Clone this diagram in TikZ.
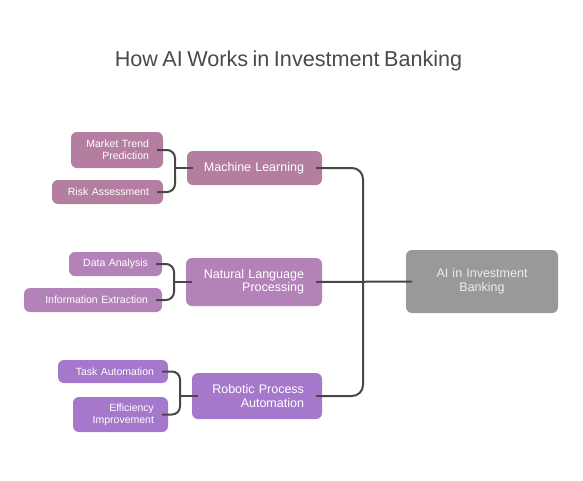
\documentclass[tikz,border=0pt]{standalone}
\usepackage{fontspec}
\setmainfont{Liberation Sans}[WordSpace=0.75]
\definecolor{mlc}{HTML}{B47EA0}
\definecolor{nlc}{HTML}{B382B8}
\definecolor{rpc}{HTML}{A678CB}
\definecolor{aic}{HTML}{999999}
\definecolor{linec}{HTML}{474747}
\definecolor{titlec}{HTML}{4A4A4A}
\begin{document}
\begin{tikzpicture}[x=1pt,y=-1pt,
  basebox/.style={rounded corners=6pt, outer sep=0pt, inner ysep=0pt, text=white, align=right},
  parent/.style={basebox, inner xsep=12pt, text width=#1-24pt, execute at begin node={\rightskip=6pt\relax}, font=\fontsize{12.5}{13.5}\selectfont},
  child/.style={basebox, inner xsep=8pt, text width=#1-16pt, execute at begin node={\rightskip=6pt\relax}, font=\fontsize{10.5}{12.3}\selectfont},
  conn/.style={draw=linec, line width=2pt, rounded corners=8pt},
  trunk/.style={draw=linec, line width=2pt, rounded corners=11pt}]
\useasboundingbox[fill=white] (0,0) rectangle (583,480);
\node[font=\fontsize{21.6}{24}\selectfont, text=titlec] (title) at (288.5,61) {How AI Works in Investment Banking};
% Machine Learning group
\node[parent=135pt, fill=mlc, minimum height=34pt] (ml) at (254.5,168) {Machine Learning};
\node[child=92pt, fill=mlc, minimum height=36pt] (mtp) at (117,150) {Market Trend\\Prediction};
\node[child=111pt, fill=mlc, minimum height=24pt] (ra) at (107.5,192) {Risk Assessment};
% NLP group
\node[parent=136pt, fill=nlc, minimum height=48pt] (nlp) at (254,282) {Natural Language\\Processing};
\node[child=93pt, fill=nlc, minimum height=24pt] (da) at (115.5,264) {Data Analysis};
\node[child=138pt, fill=nlc, minimum height=24pt] (ie) at (93,300) {Information Extraction};
% RPA group
\node[parent=130pt, fill=rpc, minimum height=46pt] (rpa) at (257,396) {Robotic Process\\Automation};
\node[child=110pt, fill=rpc, minimum height=23pt] (ta) at (113,371.5) {Task Automation};
\node[child=95pt, fill=rpc, minimum height=35pt] (ei) at (120.5,414.5) {Efficiency\\Improvement};
% Root
\node[basebox, fill=aic, text=white!93!black, align=center, text width=130pt, inner xsep=11pt, minimum height=63pt, font=\fontsize{12.5}{13.5}\selectfont] (ai) at (482,281.5) {AI in Investment\\Banking};
% junctions
\coordinate (j1) at (175,168);
\coordinate (j2) at (174,282);
\coordinate (j3) at (180,396);
\coordinate (jt) at (363,282);
% brackets
\draw[conn] ([xshift=-6pt]mtp.east) -| (j1) |- ([xshift=-6pt]ra.east);
\draw[conn] (j1) -- ([xshift=6pt]ml.west);
\draw[conn] ([xshift=-6pt]da.east) -| (j2) |- ([xshift=-6pt]ie.east);
\draw[conn] (j2) -- ([xshift=6pt]nlp.west);
\draw[conn] ([xshift=-6pt]ta.east) -| (j3) |- ([xshift=-6pt]ei.east);
\draw[conn] (j3) -- ([xshift=6pt]rpa.west);
% trunk
\draw[trunk] ([xshift=-6pt]ml.east) -| (jt) |- ([xshift=-6pt]rpa.east);
\draw[conn] ([xshift=-6pt]nlp.east) -- ([xshift=6pt]ai.west);
\end{tikzpicture}
\end{document}
